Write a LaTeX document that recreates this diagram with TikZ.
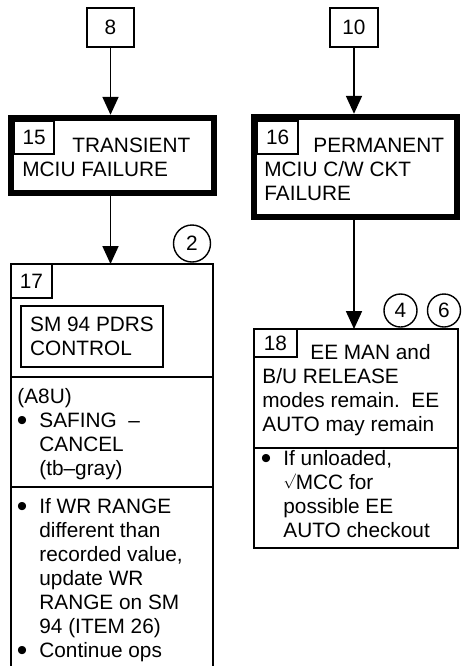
\documentclass[tikz,border=0pt]{standalone}
\usepackage{fontspec}
\setmainfont{Liberation Sans}
\usetikzlibrary{arrows.meta}

\tikzset{
  refbox/.style={draw, line width=0.9pt, inner sep=0pt, outer sep=0pt},
  heavybox/.style={draw, line width=3.2pt, inner sep=0pt},
  thinline/.style={line width=0.9pt},
  flow/.style={line width=0.9pt, -{Triangle[length=9pt,width=8pt]}},
  callout/.style={draw, circle, line width=0.7pt, inner sep=0pt},
  txt/.style={inner sep=0pt, anchor=base west, align=left},
  dot/.style={txt, font=\fontsize{15}{12}\selectfont},
}

\begin{document}
\begin{tikzpicture}[x=0.5pt, y=-0.5pt, font=\fontsize{10.4}{12}\selectfont]
	\useasboundingbox (0,0) rectangle (465,666);

	% entry references
	\node[refbox, minimum width=23.5pt, minimum height=19.5pt] (ref8) at (110.5,27.5) {8};
	\node[refbox, minimum width=24pt, minimum height=19.5pt] (ref10) at (354,27.5) {10};

	% failure boxes (multi-line texts sit on the base of their last line)
	\node[heavybox, minimum width=101.5pt, minimum height=37.5pt] (box15) at (112.5,155.5) {};
	\node[heavybox, minimum width=101.5pt, minimum height=50pt] (box16) at (355.5,167) {};
	\node[refbox, anchor=north west, minimum width=20pt, minimum height=16.5pt] (num15) at (14.2,121.2) {15};
	\node[refbox, anchor=north west, minimum width=20.5pt, minimum height=16.5pt] (num16) at (257.2,121.2) {16};
	\node[txt] (t15a) at (72,152) {TRANSIENT};
	\node[txt] (t15b) at (22,176) {MCIU FAILURE};
	\node[txt] (t16a) at (313,152) {PERMANENT};
	\node[txt] (t16b) at (264,200) {MCIU C/W CKT\\FAILURE};

	% action boxes
	\node[refbox, minimum width=101pt, minimum height=204pt] (box17) at (112,468) {};
	\node[refbox, minimum width=102pt, minimum height=109.5pt] (box18) at (356,438.5) {};
	\node[refbox, anchor=north west, minimum width=20.5pt, minimum height=17pt] (num17) at (11,264) {17};
	\node[refbox, anchor=north west, minimum width=21.5pt, minimum height=14pt] (num18) at (254,329) {18};
	\node[refbox, minimum width=71pt, minimum height=30.5pt, align=left] (pdrs) at (92,336.5) {SM 94 PDRS\\CONTROL};
	\coordinate (div17a) at (0,377);
	\coordinate (div17b) at (0,487);
	\coordinate (div18) at (0,448);
	\draw[thinline] (box17.west |- div17a) -- (box17.east |- div17a);
	\draw[thinline] (box17.west |- div17b) -- (box17.east |- div17b);
	\draw[thinline] (box18.west |- div18) -- (box18.east |- div18);

	% box 17 text
	\node[txt] (a8u) at (17,403) {(A8U)};
	\node[dot] (b17a) at (16.5,430) {\textbullet};
	\node[txt] (t17a) at (39,475) {SAFING\ \ –\\CANCEL\\(tb–gray)};
	\node[dot] (b17b) at (16.5,516) {\textbullet};
	\node[txt] (t17b) at (39,633) {If WR RANGE\\different than\\recorded value,\\update WR\\RANGE on SM\\94 (ITEM 26)};
	\node[dot] (b17c) at (16.5,660) {\textbullet};
	\node[txt] (t17c) at (39,657) {Continue ops};

	% box 18 text
	\node[txt] (t18a) at (310,359) {EE MAN and};
	\node[txt] (t18b) at (262,431) {B/U RELEASE\\modes remain.\ \ EE\\AUTO may remain};
	\node[dot] (b18) at (260.5,468) {\textbullet};
	\node[txt] (t18c) at (283,537) {If unloaded,\\\raisebox{2pt}{\scalebox{0.75}{$\surd$}}MCC for\\possible EE\\AUTO checkout};

	% notes
	\node[callout, minimum size=18.5pt] (note2) at (192,243.5) {2};
	\node[callout, minimum size=16.5pt] (note4) at (400.5,310.5) {4};
	\node[callout, minimum size=16.5pt] (note6) at (444,310.5) {6};

	% flow
	\draw[flow] (ref8) -- (ref8.south |- box15.north);
	\draw[flow] (ref8.south |- box15.south) -- (ref8.south |- box17.north);
	\draw[flow] (ref10) -- (ref10.south |- box16.north);
	\draw[flow] (ref10.south |- box16.south) -- (ref10.south |- box18.north);
\end{tikzpicture}
\end{document}
